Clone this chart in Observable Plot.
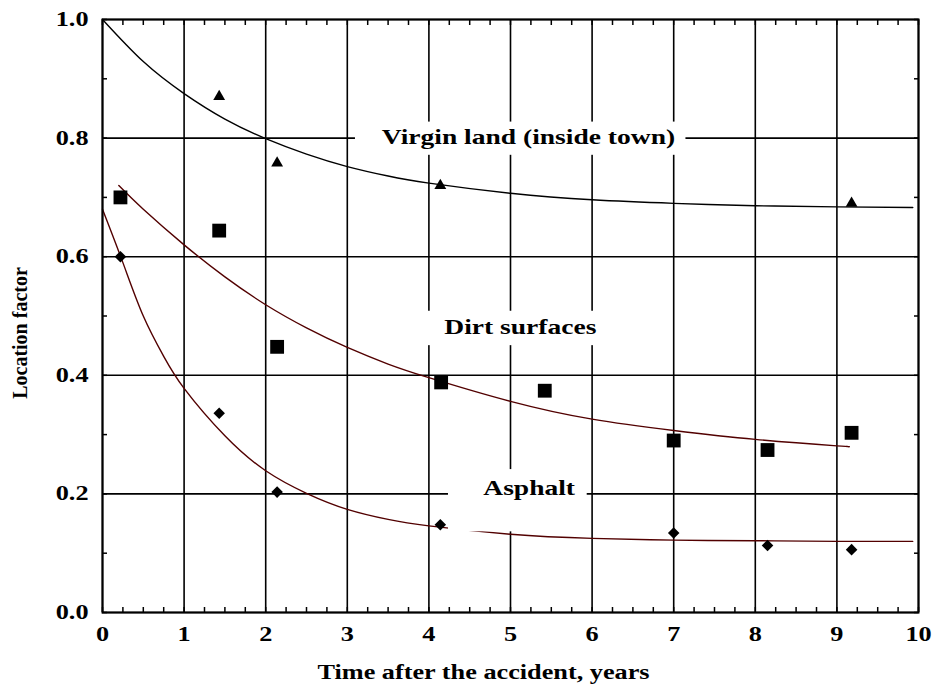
<!DOCTYPE html>
<html>
<head>
<meta charset="utf-8">
<script src="https://cdn.jsdelivr.net/npm/d3@7"></script>
<script src="https://cdn.jsdelivr.net/npm/@observablehq/plot@0.6"></script>
<style>
  body { margin: 0; background: #fff; }
  #chart { width: 935px; height: 687px; }
</style>
</head>
<body>
<div id="chart"></div>
<script>
// Measured location factors (points)
const virginYears   = [1.43, 2.14, 4.14, 9.18];
const virginFactor  = [0.87, 0.758, 0.72, 0.69];
const dirtYears     = [0.22, 1.43, 2.14, 4.15, 5.42, 7.0, 8.15, 9.18];
const dirtFactor    = [0.70, 0.644, 0.448, 0.388, 0.374, 0.29, 0.274, 0.303];
const asphaltYears  = [0.22, 1.43, 2.14, 4.14, 7.0, 8.15, 9.18];
const asphaltFactor = [0.60, 0.336, 0.203, 0.148, 0.134, 0.113, 0.106];

// Fitted trend curves, sampled
const virginCurveX  = [0, 0.5, 1, 1.5, 2, 2.5, 3, 3.5, 4, 5, 6, 7, 8, 9, 9.93];
const virginCurveY  = [1.0, 0.929, 0.875, 0.832, 0.799, 0.773, 0.752, 0.736, 0.724, 0.707, 0.696, 0.690, 0.686, 0.684, 0.683];
const dirtCurveX    = [0.2, 0.5, 1, 1.5, 2, 2.5, 3, 3.5, 4, 5, 6, 7, 8, 9, 9.12];
const dirtCurveY    = [0.72, 0.68, 0.62, 0.566, 0.519, 0.48, 0.447, 0.419, 0.396, 0.356, 0.326, 0.307, 0.292, 0.281, 0.280];
const asphaltCurveX = [0, 0.25, 0.5, 0.75, 1, 1.5, 2, 2.5, 3, 3.5, 4, 5, 6, 7, 8, 9, 9.93];
const asphaltCurveY = [0.68, 0.59, 0.50, 0.432, 0.378, 0.298, 0.239, 0.201, 0.174, 0.157, 0.146, 0.132, 0.125, 0.122, 0.121, 0.120, 0.120];

// Axis ticks
const xTicks = [0, 1, 2, 3, 4, 5, 6, 7, 8, 9, 10];
const yTicks = [0, 0.2, 0.4, 0.6, 0.8, 1.0];
const xMinor = d3.range(0, 10.001, 0.25);
const yMinor = d3.range(0, 1.0001, 0.1);

// Series labels
const labelNames = ["Virgin land (inside town)", "Dirt surfaces", "Asphalt"];
const labelX = [5.22, 5.12, 5.23];
const labelY = [0.801, 0.481, 0.209];
const boxX1 = [3.10, 3.98, 4.24];
const boxX2 = [7.15, 6.15, 5.94];
const boxY1 = [0.771, 0.450, 0.136];
const boxY2 = [0.827, 0.508, 0.241];

const xTitle = "Time after the accident, years";
const yTitle = "Location factor";

const pts = (xs, ys) => xs.map((x, i) => ({x, y: ys[i]}));
const labels = labelNames.map((text, i) => ({
  text, x: labelX[i], y: labelY[i], x1: boxX1[i], x2: boxX2[i], y1: boxY1[i], y2: boxY2[i]
}));

const curveColor = "#520000";
const serif = "'Liberation Serif', 'Times New Roman', serif";

const chart = Plot.plot({
  width: 935,
  height: 687,
  marginLeft: 102,
  marginRight: 17,
  marginTop: 19,
  marginBottom: 75,
  style: {fontFamily: serif, fontWeight: "bold", fontSize: "19px", color: "#000", background: "#fff"},
  x: {domain: [0, 10]},
  y: {domain: [0, 1]},
  marks: [
    Plot.ruleX(xTicks, {stroke: "#000", strokeWidth: 1.6}),
    Plot.ruleY(yTicks, {stroke: "#000", strokeWidth: 1.6}),
    Plot.line(pts(virginCurveX, virginCurveY), {x: "x", y: "y", curve: "natural", stroke: "#000", strokeWidth: 1.4}),
    Plot.line(pts(dirtCurveX, dirtCurveY), {x: "x", y: "y", curve: "natural", stroke: curveColor, strokeWidth: 1.4}),
    Plot.line(pts(asphaltCurveX, asphaltCurveY), {x: "x", y: "y", curve: "natural", stroke: curveColor, strokeWidth: 1.4}),
    Plot.rect(labels, {x1: "x1", x2: "x2", y1: "y1", y2: "y2", fill: "#fff"}),
    Plot.text(labels, {x: "x", y: "y", text: "text", fontSize: 21.5, fontWeight: "bold", fill: "#000"}),
    Plot.dot(pts(virginYears, virginFactor), {x: "x", y: "y", symbol: "triangle", r: 4.4, fill: "#000", stroke: "none"}),
    Plot.dot(pts(dirtYears, dirtFactor), {x: "x", y: "y", symbol: "square", r: 7.8, fill: "#000", stroke: "none"}),
    Plot.dot(pts(asphaltYears, asphaltFactor), {x: "x", y: "y", symbol: "diamond2", r: 5.2, fill: "#000", stroke: "none"}),
    Plot.frame({stroke: "#000", strokeWidth: 2}),
    // inward minor ticks on all four sides
    Plot.axisX(xMinor, {anchor: "bottom", tickSize: -5, tickFormat: () => "", label: null, strokeWidth: 1.5}),
    Plot.axisX(xMinor, {anchor: "top", tickSize: -5, tickFormat: () => "", label: null, strokeWidth: 1.5}),
    Plot.axisY(yMinor, {anchor: "left", tickSize: -5, tickFormat: () => "", label: null, strokeWidth: 1.5}),
    Plot.axisY(yMinor, {anchor: "right", tickSize: -5, tickFormat: () => "", label: null, strokeWidth: 1.5}),
    // tick labels
    Plot.axisX(xTicks, {anchor: "bottom", tickSize: 0, tickPadding: 14, label: null, fontSize: 20.5, fontWeight: "bold", fill: "#000"}),
    Plot.axisY(yTicks, {anchor: "left", tickSize: 0, tickPadding: 14, tickFormat: ".1f", label: null, fontSize: 20.5, fontWeight: "bold", fill: "#000"}),
    // axis titles
    Plot.text([xTitle], {frameAnchor: "bottom", textAnchor: "middle", lineAnchor: "middle", dx: -27, dy: 60, fontSize: 20.5, fontWeight: "bold", fill: "#000"}),
    Plot.text([yTitle], {frameAnchor: "left", textAnchor: "middle", lineAnchor: "middle", rotate: -90, dx: -82, dy: 17, fontSize: 20, fontWeight: "bold", fill: "#000"})
  ]
});

document.getElementById("chart").append(chart);

// Widen the horizontal lettering to the broad face used throughout the figure,
// keeping each label on its own anchor (start, middle or end)
const widen = 1.28;
d3.select(chart).selectAll("text").each(function () {
  if ((this.getAttribute("transform") || "").includes("rotate")) return;
  const len = this.getComputedTextLength();
  if (!(len > 0)) return;
  const before = this.getBBox();
  this.setAttribute("textLength", len * widen);
  this.setAttribute("lengthAdjust", "spacingAndGlyphs");
  const after = this.getBBox();
  const anchor = getComputedStyle(this).textAnchor;
  const shift = anchor === "end"
    ? (before.x + before.width) - (after.x + after.width)
    : anchor === "middle"
    ? (before.x + before.width / 2) - (after.x + after.width / 2)
    : before.x - after.x;
  if (Math.abs(shift) > 0.1) {
    this.setAttribute("x", (parseFloat(this.getAttribute("x")) || 0) + shift);
  }
});
</script>
</body>
</html>
